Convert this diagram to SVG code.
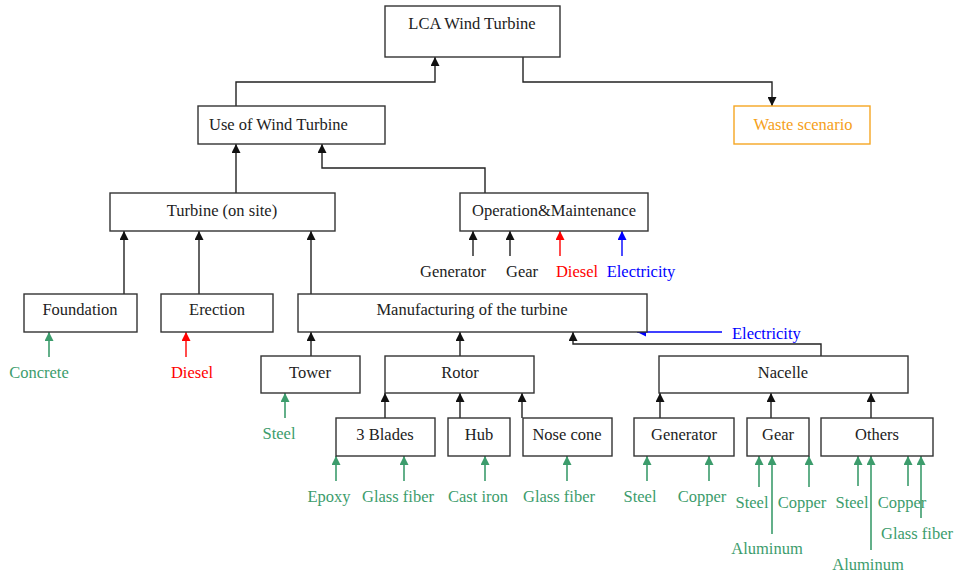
<svg xmlns="http://www.w3.org/2000/svg" width="956" height="573" viewBox="0 0 956 573">
<style>
text{font-family:"Liberation Serif","Times New Roman",serif;font-size:16.5px;fill:#222;text-anchor:middle}
.box{fill:#fff;stroke:#333;stroke-width:1.4}
.c{fill:none;stroke:#222;stroke-width:1.4;marker-end:url(#ak)}
.g{fill:none;stroke:#3c9c6c;stroke-width:1.6;marker-end:url(#ag)}
.r{fill:none;stroke:#f00;stroke-width:1.4;marker-end:url(#ar)}
.b{fill:none;stroke:#00f;stroke-width:1.4;marker-end:url(#ab)}
text.gt{fill:#3c9c6c}
text.rt{fill:#f00}
text.bt{fill:#00f}
</style>
<defs>
<marker id="ak" viewBox="0 0 10 10" refX="10" refY="5" markerWidth="11" markerHeight="9" markerUnits="userSpaceOnUse" orient="auto"><path d="M0,0L10,5L0,10z" fill="#111"/></marker>
<marker id="ag" viewBox="0 0 10 10" refX="10" refY="5" markerWidth="11" markerHeight="9" markerUnits="userSpaceOnUse" orient="auto"><path d="M0,0L10,5L0,10z" fill="#3c9c6c"/></marker>
<marker id="ar" viewBox="0 0 10 10" refX="10" refY="5" markerWidth="11" markerHeight="9" markerUnits="userSpaceOnUse" orient="auto"><path d="M0,0L10,5L0,10z" fill="#f00"/></marker>
<marker id="ab" viewBox="0 0 10 10" refX="10" refY="5" markerWidth="11" markerHeight="9" markerUnits="userSpaceOnUse" orient="auto"><path d="M0,0L10,5L0,10z" fill="#00f"/></marker>
</defs>
<rect width="956" height="573" fill="#fff"/>
<g id="connectors">
<path class="c" d="M236,106V82H435V57"/>
<path class="c" d="M523,57V82H772V106"/>
<path class="c" d="M236,193V144"/>
<path class="c" d="M485,193V168H322V144"/>
<path class="c" d="M124,294V231"/>
<path class="c" d="M199,294V231"/>
<path class="c" d="M311,294V231"/>
<path class="c" d="M311,356V332"/>
<path class="c" d="M460,356V332"/>
<path class="c" d="M821,356V344H573V332"/>
<path class="c" d="M385,418V393"/>
<path class="c" d="M460,418V393"/>
<path class="c" d="M522,418V393"/>
<path class="c" d="M660,418V393"/>
<path class="c" d="M771,418V393"/>
<path class="c" d="M871,418V393"/>
<path class="c" d="M473,256V231"/>
<path class="c" d="M510,256V231"/>
<path class="r" d="M560,256V231"/>
<path class="b" d="M622,256V231"/>
<path class="b" d="M722,332H637"/>
<path class="g" d="M49,357V332"/>
<path class="r" d="M186,357V332"/>
<path class="g" d="M285,418V393"/>
<path class="g" d="M336,481V456"/>
<path class="g" d="M404,481V456"/>
<path class="g" d="M485,481V456"/>
<path class="g" d="M567,481V456"/>
<path class="g" d="M647,481V456"/>
<path class="g" d="M709,481V456"/>
<path class="g" d="M759,487V456"/>
<path class="g" d="M772,534V456"/>
<path class="g" d="M809,487V456"/>
<path class="g" d="M858,486V456"/>
<path class="g" d="M871,550V456"/>
<path class="g" d="M908,486V456"/>
<path class="g" d="M921,518V456"/>
</g>
<g id="lca"><rect class="box" x="385" y="6" width="175" height="51"/><text x="472" y="29">LCA Wind Turbine</text></g>
<g id="use"><rect class="box" x="198" y="106" width="187" height="38"/><text x="209" y="130" style="text-anchor:start">Use of Wind Turbine</text></g>
<g id="waste"><rect class="box" x="734" y="106" width="136" height="38" style="stroke:#f5a623"/><text x="803" y="130" style="fill:#f5a020">Waste scenario</text></g>
<g id="turbine"><rect class="box" x="110" y="193" width="225" height="38"/><text x="222" y="216">Turbine (on site)</text></g>
<g id="om"><rect class="box" x="460" y="193" width="188" height="38"/><text x="554" y="216">Operation&amp;Maintenance</text></g>
<g id="foundation"><rect class="box" x="24" y="294" width="113" height="38"/><text x="80" y="315">Foundation</text></g>
<g id="erection"><rect class="box" x="161" y="294" width="112" height="38"/><text x="217" y="315">Erection</text></g>
<g id="manufacturing"><rect class="box" x="298" y="294" width="349" height="38"/><text x="472" y="315">Manufacturing of the turbine</text></g>
<g id="tower"><rect class="box" x="261" y="356" width="99" height="37"/><text x="310" y="378">Tower</text></g>
<g id="rotor"><rect class="box" x="385" y="356" width="149" height="37"/><text x="460" y="378">Rotor</text></g>
<g id="nacelle"><rect class="box" x="659" y="356" width="249" height="37"/><text x="783" y="378">Nacelle</text></g>
<g id="blades"><rect class="box" x="336" y="418" width="99" height="38"/><text x="385" y="440">3 Blades</text></g>
<g id="hub"><rect class="box" x="448" y="418" width="62" height="38"/><text x="479" y="440">Hub</text></g>
<g id="nosecone"><rect class="box" x="523" y="418" width="89" height="38"/><text x="567" y="440">Nose cone</text></g>
<g id="generator"><rect class="box" x="634" y="418" width="100" height="38"/><text x="684" y="440">Generator</text></g>
<g id="gear"><rect class="box" x="747" y="418" width="62" height="38"/><text x="778" y="440">Gear</text></g>
<g id="others"><rect class="box" x="821" y="418" width="112" height="38"/><text x="877" y="440">Others</text></g>
<g id="labels">
<text x="453" y="277">Generator</text>
<text x="522" y="277">Gear</text>
<text class="rt" x="577" y="277">Diesel</text>
<text class="bt" x="641" y="277">Electricity</text>
<text class="bt" x="732" y="339" style="text-anchor:start">Electricity</text>
<text class="gt" x="39" y="378">Concrete</text>
<text class="rt" x="192" y="378">Diesel</text>
<text class="gt" x="279" y="439">Steel</text>
<text class="gt" x="329" y="502">Epoxy</text>
<text class="gt" x="398" y="502">Glass fiber</text>
<text class="gt" x="478" y="502">Cast iron</text>
<text class="gt" x="559" y="502">Glass fiber</text>
<text class="gt" x="640" y="502">Steel</text>
<text class="gt" x="702" y="502">Copper</text>
<text class="gt" x="752" y="508">Steel</text>
<text class="gt" x="802" y="508">Copper</text>
<text class="gt" x="767" y="554">Aluminum</text>
<text class="gt" x="852" y="508">Steel</text>
<text class="gt" x="902" y="508">Copper</text>
<text class="gt" x="917" y="539">Glass fiber</text>
<text class="gt" x="868" y="570">Aluminum</text>
</g>
</svg>
